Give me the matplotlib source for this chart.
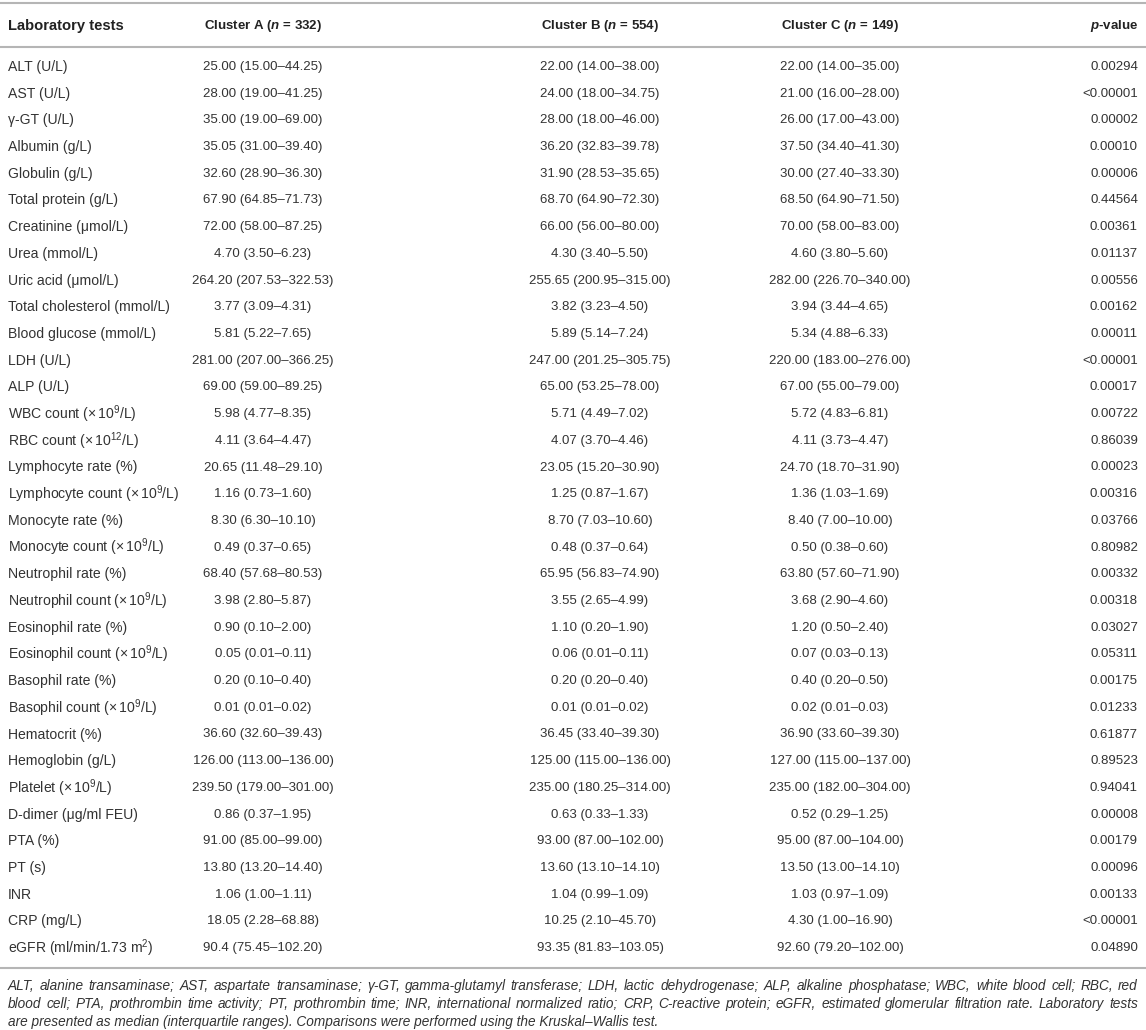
import matplotlib
matplotlib.use("Agg")
import matplotlib.pyplot as plt
from matplotlib.lines import Line2D
from matplotlib import font_manager

plt.rcParams['font.family'] = ['Liberation Sans', 'DejaVu Sans']
plt.rcParams['mathtext.fontset'] = 'custom'
plt.rcParams['mathtext.rm'] = 'Liberation Sans'
plt.rcParams['mathtext.it'] = 'Liberation Sans:italic:bold'
plt.rcParams['mathtext.bf'] = 'Liberation Sans:bold'

# ---------------- data ----------------
headers = ["Laboratory tests", r"Cluster A ($n$ = 332)", r"Cluster B ($n$ = 554)",
           r"Cluster C ($n$ = 149)", r"$p$-value"]

tests = [
    "ALT (U/L)", "AST (U/L)", "γ-GT (U/L)", "Albumin (g/L)", "Globulin (g/L)",
    "Total protein (g/L)", "Creatinine (μmol/L)", "Urea (mmol/L)", "Uric acid (μmol/L)",
    "Total cholesterol (mmol/L)", "Blood glucose (mmol/L)", "LDH (U/L)", "ALP (U/L)",
    r"WBC count (×$\,10^{9}$/L)", r"RBC count (×$\,10^{12}$/L)", "Lymphocyte rate (%)",
    r"Lymphocyte count (×$\,10^{9}$/L)", "Monocyte rate (%)", r"Monocyte count (×$\,10^{9}$/L)",
    "Neutrophil rate (%)", r"Neutrophil count (×$\,10^{9}$/L)", "Eosinophil rate (%)",
    r"Eosinophil count (×$\,10^{9}$/L)", "Basophil rate (%)", r"Basophil count (×$\,10^{9}$/L)",
    "Hematocrit (%)", "Hemoglobin (g/L)", r"Platelet (×$\,10^{9}$/L)", "D-dimer (μg/ml FEU)",
    "PTA (%)", "PT (s)", "INR", "CRP (mg/L)", r"eGFR (ml/min/1.73 m$^{2}$)",
]

cluster_a = [
    "25.00 (15.00–44.25)", "28.00 (19.00–41.25)", "35.00 (19.00–69.00)", "35.05 (31.00–39.40)",
    "32.60 (28.90–36.30)", "67.90 (64.85–71.73)", "72.00 (58.00–87.25)", "4.70 (3.50–6.23)",
    "264.20 (207.53–322.53)", "3.77 (3.09–4.31)", "5.81 (5.22–7.65)", "281.00 (207.00–366.25)",
    "69.00 (59.00–89.25)", "5.98 (4.77–8.35)", "4.11 (3.64–4.47)", "20.65 (11.48–29.10)",
    "1.16 (0.73–1.60)", "8.30 (6.30–10.10)", "0.49 (0.37–0.65)", "68.40 (57.68–80.53)",
    "3.98 (2.80–5.87)", "0.90 (0.10–2.00)", "0.05 (0.01–0.11)", "0.20 (0.10–0.40)",
    "0.01 (0.01–0.02)", "36.60 (32.60–39.43)", "126.00 (113.00–136.00)", "239.50 (179.00–301.00)",
    "0.86 (0.37–1.95)", "91.00 (85.00–99.00)", "13.80 (13.20–14.40)", "1.06 (1.00–1.11)",
    "18.05 (2.28–68.88)", "90.4 (75.45–102.20)",
]

cluster_b = [
    "22.00 (14.00–38.00)", "24.00 (18.00–34.75)", "28.00 (18.00–46.00)", "36.20 (32.83–39.78)",
    "31.90 (28.53–35.65)", "68.70 (64.90–72.30)", "66.00 (56.00–80.00)", "4.30 (3.40–5.50)",
    "255.65 (200.95–315.00)", "3.82 (3.23–4.50)", "5.89 (5.14–7.24)", "247.00 (201.25–305.75)",
    "65.00 (53.25–78.00)", "5.71 (4.49–7.02)", "4.07 (3.70–4.46)", "23.05 (15.20–30.90)",
    "1.25 (0.87–1.67)", "8.70 (7.03–10.60)", "0.48 (0.37–0.64)", "65.95 (56.83–74.90)",
    "3.55 (2.65–4.99)", "1.10 (0.20–1.90)", "0.06 (0.01–0.11)", "0.20 (0.20–0.40)",
    "0.01 (0.01–0.02)", "36.45 (33.40–39.30)", "125.00 (115.00–136.00)", "235.00 (180.25–314.00)",
    "0.63 (0.33–1.33)", "93.00 (87.00–102.00)", "13.60 (13.10–14.10)", "1.04 (0.99–1.09)",
    "10.25 (2.10–45.70)", "93.35 (81.83–103.05)",
]

cluster_c = [
    "22.00 (14.00–35.00)", "21.00 (16.00–28.00)", "26.00 (17.00–43.00)", "37.50 (34.40–41.30)",
    "30.00 (27.40–33.30)", "68.50 (64.90–71.50)", "70.00 (58.00–83.00)", "4.60 (3.80–5.60)",
    "282.00 (226.70–340.00)", "3.94 (3.44–4.65)", "5.34 (4.88–6.33)", "220.00 (183.00–276.00)",
    "67.00 (55.00–79.00)", "5.72 (4.83–6.81)", "4.11 (3.73–4.47)", "24.70 (18.70–31.90)",
    "1.36 (1.03–1.69)", "8.40 (7.00–10.00)", "0.50 (0.38–0.60)", "63.80 (57.60–71.90)",
    "3.68 (2.90–4.60)", "1.20 (0.50–2.40)", "0.07 (0.03–0.13)", "0.40 (0.20–0.50)",
    "0.02 (0.01–0.03)", "36.90 (33.60–39.30)", "127.00 (115.00–137.00)", "235.00 (182.00–304.00)",
    "0.52 (0.29–1.25)", "95.00 (87.00–104.00)", "13.50 (13.00–14.10)", "1.03 (0.97–1.09)",
    "4.30 (1.00–16.90)", "92.60 (79.20–102.00)",
]

p_values = [
    "0.00294", "<0.00001", "0.00002", "0.00010", "0.00006", "0.44564", "0.00361", "0.01137",
    "0.00556", "0.00162", "0.00011", "<0.00001", "0.00017", "0.00722", "0.86039", "0.00023",
    "0.00316", "0.03766", "0.80982", "0.00332", "0.00318", "0.03027", "0.05311", "0.00175",
    "0.01233", "0.61877", "0.89523", "0.94041", "0.00008", "0.00179", "0.00096", "0.00133",
    "<0.00001", "0.04890",
]

footnote = [
    "ALT, alanine transaminase; AST, aspartate transaminase; γ-GT, gamma-glutamyl transferase; "
    "LDH, lactic dehydrogenase; ALP, alkaline phosphatase; WBC, white blood cell; RBC, red",
    "blood cell; PTA, prothrombin time activity; PT, prothrombin time; INR, international "
    "normalized ratio; CRP, C-reactive protein; eGFR, estimated glomerular filtration rate. Laboratory tests",
    "are presented as median (interquartile ranges). Comparisons were performed using the Kruskal–Wallis test.",
]

# ---------------- layout ----------------
W, H = 1146, 1030
fig = plt.figure(figsize=(W / 100, H / 100), dpi=100)
fig.patch.set_facecolor("white")

TXT = "#333333"
HDR = "#222222"
RULE = "#b5b5b5"
FS_HDR = 10.6
FS_LBL = 10.1
FS = 9.5

note_family = ['Liberation Sans', 'DejaVu Sans']
try:
    font_manager.findfont(font_manager.FontProperties(family='Liberation Sans Narrow'),
                          fallback_to_default=False)
    note_family = ['Liberation Sans Narrow', 'Liberation Sans', 'DejaVu Sans']
except Exception:
    pass

def fx(x):
    return x / W

def fy(y):
    return 1 - y / H

def hline(y):
    fig.add_artist(Line2D([0, 1], [fy(y), fy(y)], transform=fig.transFigure,
                          color=RULE, linewidth=1.5))

x_label = 8
x_cols = [263, 600, 840]
x_p = 1138

y_top_rule = 3
y_header = 26
y_mid_rule = 47
y_first = 67
row_h = 26.7
n_rows = len(tests)
y_last = y_first + (n_rows - 1) * row_h
y_bot_rule = y_last + 20
y_note = y_bot_rule + 18
note_h = 18

hline(y_top_rule)
hline(y_mid_rule)
hline(y_bot_rule)

fig.text(fx(x_label), fy(y_header), headers[0], ha="left", va="center",
         fontsize=FS_HDR, fontweight="bold", color=HDR)
for xc, h in zip(x_cols, headers[1:4]):
    fig.text(fx(xc), fy(y_header), h, ha="center", va="center",
             fontsize=FS, fontweight="bold", color=HDR)
fig.text(fx(x_p), fy(y_header), headers[4], ha="right", va="center",
         fontsize=FS, fontweight="bold", color=HDR)

for i in range(n_rows):
    y = y_first + i * row_h
    fig.text(fx(x_label), fy(y), tests[i], ha="left", va="center", fontsize=FS_LBL, color=TXT)
    for xc, col in zip(x_cols, (cluster_a, cluster_b, cluster_c)):
        fig.text(fx(xc), fy(y), col[i], ha="center", va="center", fontsize=FS, color=TXT)
    fig.text(fx(x_p), fy(y), p_values[i], ha="right", va="center", fontsize=FS, color=TXT)

renderer = fig.canvas.get_renderer()

probe = fig.text(0, 0, footnote[2], fontsize=10, style="italic", family=note_family)
w3 = probe.get_window_extent(renderer).width
probe.set_text(footnote[0])
w1 = probe.get_window_extent(renderer).width
probe.remove()
FS_NOTE = min(10 * 757 / w3, 10 * 1105 / w1)

for li, line in enumerate(footnote):
    y = y_note + li * note_h
    if li < len(footnote) - 1:
        words = line.split(" ")
        arts = []
        widths = []
        for w_ in words:
            t = fig.text(0, fy(y), w_, ha="left", va="center", fontsize=FS_NOTE,
                         style="italic", color=TXT, family=note_family)
            arts.append(t)
            widths.append(t.get_window_extent(renderer).width)
        gap = (x_p - x_label - sum(widths)) / (len(words) - 1)
        cx = x_label
        for t, wd in zip(arts, widths):
            t.set_x(fx(cx))
            cx += wd + gap
    else:
        fig.text(fx(x_label), fy(y), line, ha="left", va="center", fontsize=FS_NOTE,
                 style="italic", color=TXT, family=note_family)

fig.savefig("out.png", dpi=100, facecolor="white")
